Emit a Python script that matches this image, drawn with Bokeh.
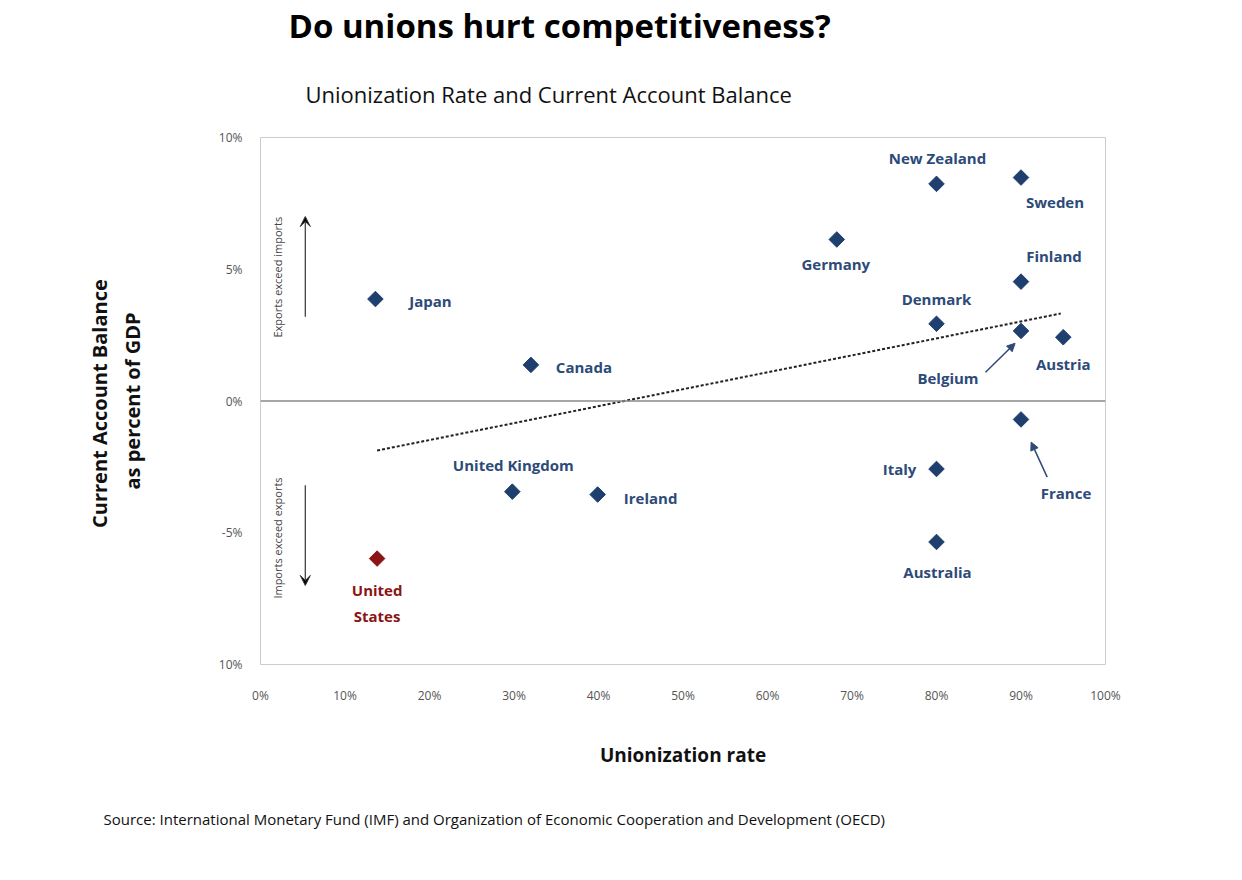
from bokeh.plotting import figure
from bokeh.models import ColumnDataSource, Title, Arrow, VeeHead, NormalHead, Span, Label
from bokeh.core.properties import value
from bokeh.embed import file_html
from bokeh.resources import INLINE

countries = ["Japan","Canada","United Kingdom","Ireland","United\nStates","Germany","New Zealand",
             "Sweden","Finland","Denmark","Belgium","Austria","France","Italy","Australia"]
union_rate = [13.6, 32.0, 29.8, 39.9, 13.8, 68.2, 80.0, 90.0, 90.0, 80.0, 90.0, 95.0, 90.0, 80.0, 80.0]
ca_balance = [3.87, 1.37, -3.44, -3.55, -5.98, 6.13, 8.24, 8.48, 4.53, 2.93, 2.66, 2.42, -0.70, -2.58, -5.35]
trend_x = [13.8, 94.7]
trend_y = [-1.88, 3.32]
y_ticks = [-10, -5, 0, 5, 10]
y_tick_labels = ["10%", "-5%", "0%", "5%", "10%"]
x_ticks = list(range(0, 101, 10))

# label offsets in screen pixels (style)
dx = [55, 53, 1, 53, 0, -1, 1, 34, 33, 0, -73, 0, 45, -37, 1]
dy = [2, 2, -27, 3, 44, 25, -26, 24, -26, -25, 47, 27, 74, 0, 30]

NAVY = "#1f3f6e"
TXT = "#2d4a78"
RED = "#8b1515"
colors = [RED if c.startswith("United\nStates") else NAVY for c in countries]
tcolors = [RED if c.startswith("United\nStates") else TXT for c in countries]
FONT = "Open Sans"

src = ColumnDataSource(dict(x=union_rate, y=ca_balance, name=countries, dx=dx, dy=dy,
                            c=colors, tc=tcolors))

p = figure(width=1226, height=864, x_range=(0, 100), y_range=(-10, 10),
           output_backend="svg", toolbar_location=None,
           min_border_left=260, min_border_right=121, min_border_top=8, min_border_bottom=10)
p.title.text = "Do unions hurt competitiveness?"
p.title.text_font = FONT
p.title.text_font_size = "33px"
p.title.text_font_style = "bold"
p.title.text_color = "#000000"
p.title.align = "left"
p.title.offset = 28
p.title.standoff = 0
p.add_layout(Title(text="Unionization Rate and Current Account Balance", text_font=FONT,
                   text_font_size="22px", text_font_style="normal", text_color="#111111",
                   align="left", offset=45, standoff=58), "above")
p.add_layout(Title(text="Source: International Monetary Fund (IMF) and Organization of Economic Cooperation and Development (OECD)",
                   text_font=FONT, text_font_size="15px", text_font_style="normal", text_color="#111111",
                   align="left", offset=-157, standoff=72), "below")

p.xgrid.visible = False
p.ygrid.visible = False
p.outline_line_color = "#cccccc"
p.background_fill_color = "white"
for ax in (p.xaxis, p.yaxis):
    ax.axis_line_color = None
    ax.major_tick_line_color = None
    ax.minor_tick_line_color = None
    ax.major_label_text_font = FONT
    ax.major_label_text_font_size = "12px"
    ax.major_label_text_color = "#555555"
    ax.axis_label_text_font = FONT
    ax.axis_label_text_font_style = "bold"
    ax.axis_label_text_font_size = "19px"
    ax.axis_label_text_color = "#111111"
p.xaxis.ticker = x_ticks
p.xaxis.major_label_overrides = {t: f"{t}%" for t in x_ticks}
p.xaxis.major_label_standoff = 16
p.xaxis.axis_label = "Unionization rate"
p.xaxis.axis_label_standoff = 35
p.yaxis.ticker = y_ticks
p.yaxis.major_label_overrides = dict(zip(y_ticks, y_tick_labels))
p.yaxis.major_label_standoff = 12
p.yaxis.axis_label = "Current Account  Balance\nas percent of GDP"
p.yaxis.axis_label_text_font_size = "20px"
p.yaxis.axis_label_standoff = 70

p.add_layout(Span(location=0, dimension="width", line_color="#888888", line_width=1.5))

p.line(trend_x, trend_y, line_color="#222222", line_width=2, line_dash="3 2")
p.scatter("x", "y", source=src, marker="square", angle=0.7854, size=11, color="c")
p.text("x", "y", text="name", source=src, x_offset="dx", y_offset="dy",
       text_align="center", text_baseline="middle", text_color="tc",
       text_font=value(FONT), text_font_style="bold", text_font_size="15px",
       text_line_height=1.3)

p.add_layout(Arrow(end=NormalHead(size=8, fill_color=TXT, line_color=TXT), x_start=85.8, y_start=1.09,
                   x_end=89.3, y_end=2.19, line_color=TXT, line_width=1.5))
p.add_layout(Arrow(end=NormalHead(size=8, fill_color=TXT, line_color=TXT), x_start=93.1, y_start=-2.89,
                   x_end=91.2, y_end=-1.56, line_color=TXT, line_width=1.5))
p.add_layout(Arrow(end=VeeHead(size=10, line_color="#333333"), x_start=5.3, y_start=3.2,
                   x_end=5.3, y_end=7.0, line_color="#333333", line_width=1.2))
p.add_layout(Arrow(end=VeeHead(size=10, line_color="#333333"), x_start=5.3, y_start=-3.2,
                   x_end=5.3, y_end=-7.0, line_color="#333333", line_width=1.2))
p.add_layout(Label(x=2.0, y=4.7, text="Exports exceed imports", angle=1.5708, text_align="center",
                   text_baseline="middle", text_font=FONT, text_font_size="11px", text_color="#444444"))
p.add_layout(Label(x=2.0, y=-5.2, text="Imports exceed exports", angle=1.5708, text_align="center",
                   text_baseline="middle", text_font=FONT, text_font_size="11px", text_color="#444444"))

open("out.html", "w").write(file_html(p, INLINE))
